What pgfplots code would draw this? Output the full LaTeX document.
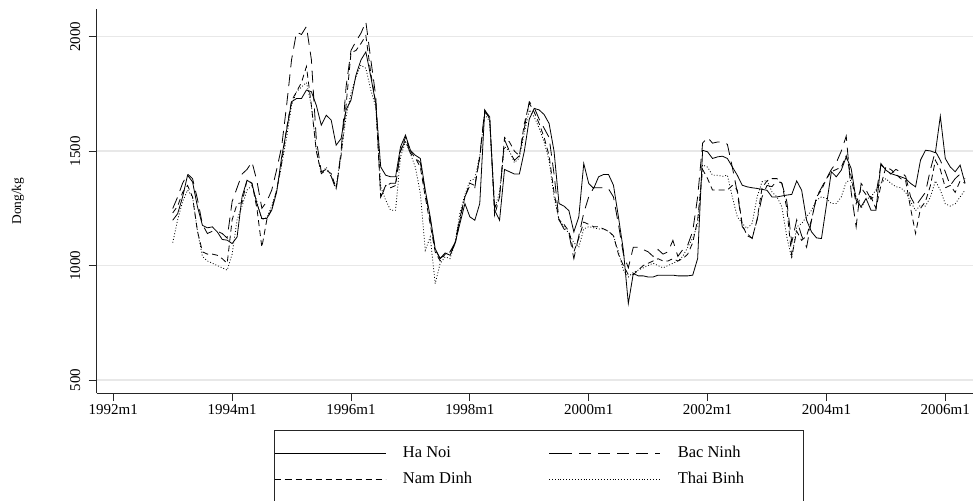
\documentclass[border=0pt]{standalone}
\usepackage{fontspec}
\setmainfont{Liberation Serif}
\usepackage{pgfplots}
\usepackage{pgfplotstable}
\pgfplotsset{compat=1.18}

% m = months since 1992m1
\pgfplotstableread{
m hn bn nd tb
12 1198 1249 1230 1100
13 1227 1300 1260 1200
14 1300 1360 1320 1280
15 1395 1400 1350 1330
16 1366 1380 1300 1300
17 1257 1290 1150 1150
18 1176 1180 1060 1040
19 1165 1140 1050 1020
20 1169 1150 1050 1010
21 1147 1150 1045 1000
22 1114 1140 1030 990
23 1111 1120 1010 980
24 1096 1280 1200 1050
25 1125 1340 1270 1200
26 1300 1400 1275 1260
27 1373 1420 1373 1330
28 1359 1453 1360 1350
29 1271 1370 1250 1280
30 1206 1250 1080 1200
31 1206 1280 1200 1210
32 1242 1330 1250 1260
33 1322 1420 1330 1330
34 1475 1520 1450 1440
35 1592 1700 1600 1560
36 1716 1900 1720 1700
37 1730 2020 1760 1760
38 1730 2010 1800 1780
39 1767 2045 1870 1800
40 1760 1900 1700 1700
41 1700 1550 1500 1504
42 1614 1410 1402 1400
43 1657 1420 1417 1430
44 1636 1390 1402 1390
45 1526 1330 1337 1345
46 1555 1500 1480 1490
47 1680 1780 1700 1650
48 1723 1940 1930 1752
49 1832 1980 1940 1825
50 1898 2015 1970 1876
51 1934 2065 2005 1862
52 1825 1900 1840 1767
53 1708 1740 1710 1694
54 1431 1300 1300 1344
55 1395 1345 1350 1286
56 1388 1360 1340 1242
57 1388 1360 1350 1242
58 1519 1500 1500 1475
59 1570 1550 1560 1540
60 1504 1490 1500 1490
61 1482 1470 1470 1430
62 1468 1450 1430 1315
63 1329 1320 1300 1067
64 1213 1200 1180 1125
65 1074 1070 1060 921
66 1031 1030 1020 1009
67 1055 1050 1050 1038
68 1045 1060 1060 1030
69 1096 1100 1090 1100
70 1184 1210 1200 1230
71 1271 1300 1300 1310
72 1213 1350 1360 1370
73 1198 1340 1350 1380
74 1271 1480 1470 1480
75 1679 1680 1670 1660
76 1650 1640 1650 1630
77 1242 1250 1220 1250
78 1198 1300 1300 1320
79 1420 1550 1560 1520
80 1410 1500 1540 1500
81 1400 1460 1500 1450
82 1400 1480 1480 1470
83 1500 1600 1620 1580
84 1640 1716 1710 1680
85 1687 1690 1670 1650
86 1680 1640 1620 1600
87 1660 1600 1560 1540
88 1621 1560 1480 1460
89 1500 1400 1320 1300
90 1271 1200 1200 1200
91 1260 1160 1180 1170
92 1240 1140 1150 1140
93 1147 1030 1060 1100
94 1213 1130 1120 1080
95 1446 1230 1190 1160
96 1359 1300 1180 1170
97 1337 1340 1170 1165
98 1388 1340 1170 1160
99 1398 1340 1160 1160
100 1398 1335 1150 1150
101 1351 1300 1130 1130
102 1213 1180 1050 1060
103 1067 1050 1000 980
104 834 990 960 950
105 965 1080 960 970
106 955 1080 980 980
107 955 1070 1000 990
108 950 1060 1010 1000
109 950 1040 1020 1010
110 958 1070 1030 1000
111 958 1050 1020 990
112 958 1060 1020 1000
113 958 1110 1030 1010
114 955 1040 1020 1020
115 955 1070 1030 1040
116 955 1090 1050 1080
117 958 1150 1100 1120
118 1031 1300 1200 1180
119 1504 1535 1420 1440
120 1497 1560 1380 1430
121 1468 1535 1330 1395
122 1475 1540 1330 1395
123 1478 1540 1330 1390
124 1468 1530 1330 1395
125 1431 1430 1350 1300
126 1395 1320 1330 1213
127 1351 1170 1180 1184
128 1344 1140 1130 1162
129 1340 1118 1120 1184
130 1337 1200 1200 1300
131 1333 1300 1340 1366
132 1329 1350 1370 1373
133 1300 1345 1380 1322
134 1300 1370 1380 1300
135 1304 1360 1360 1257
136 1308 1280 1250 1125
137 1311 1100 1040 1031
138 1370 1200 1150 1169
139 1329 1130 1110 1184
140 1198 1080 1130 1213
141 1147 1200 1200 1242
142 1121 1300 1300 1286
143 1118 1340 1330 1300
144 1264 1380 1380 1293
145 1410 1420 1410 1271
146 1388 1450 1420 1271
147 1417 1500 1430 1300
148 1475 1566 1480 1366
149 1424 1320 1390 1373
150 1286 1169 1270 1300
151 1257 1359 1340 1250
152 1293 1330 1310 1290
153 1242 1290 1300 1300
154 1242 1310 1250 1330
155 1446 1440 1350 1360
156 1417 1420 1430 1380
157 1402 1400 1420 1360
158 1395 1420 1400 1345
159 1388 1410 1380 1340
160 1380 1390 1370 1320
161 1359 1300 1250 1280
162 1344 1260 1140 1240
163 1461 1290 1250 1264
164 1504 1320 1280 1260
165 1501 1420 1350 1300
166 1493 1500 1460 1370
167 1653 1460 1420 1330
168 1468 1410 1340 1270
169 1431 1350 1350 1260
170 1410 1380 1320 1270
171 1439 1400 1370 1300
172 1359 1380 1360 1330
}\prices

\begin{document}
\begin{tikzpicture}[x=1pt,y=1pt]
\path[use as bounding box] (0,0) rectangle (973,500);
\begin{axis}[
  at={(96.7pt,107pt)}, anchor=south west,
  scale only axis, width=876.3pt, height=383.7pt,
  xmin=-3.35, xmax=173.6, ymin=443, ymax=2120,
  axis x line*=bottom, axis y line*=left,
  axis line style={line width=0.9pt, color=black!85, -},
  xtick={0,24,48,72,96,120,144,168},
  xticklabels={1992m1,1994m1,1996m1,1998m1,2000m1,2002m1,2004m1,2006m1},
  ytick={500,1000,1500,2000},
  yticklabels={500,1000,1500,2000},
  tick align=outside,
  major tick length=8pt,
  tick style={line width=0.9pt, color=black!85},
  ticklabel style={font=\fontsize{15}{17}\selectfont},
  yticklabel style={rotate=90, anchor=south},
  yticklabel shift=5pt,
  ymajorgrids,
  grid style={line width=1.4pt, color=black!9},
  ylabel={Dong/kg},
  ylabel style={at={(axis description cs:-0.0898,0.5)}, anchor=center, rotate=0, font=\fontsize{13.4}{15}\selectfont},
  legend columns=2,
  legend cell align=left,
  legend image code/.code={\path (-11pt,0pt) -- (0pt,0pt); \draw[#1] (0pt,0pt) -- (100pt,0pt);},
  legend style={at={(axis description cs:0.5047,-0.0964)}, anchor=north,
    draw=black!85, line width=0.9pt, inner xsep=0pt, inner ysep=15pt,
    column sep=0pt, row sep=10pt,
    nodes={inner sep=0pt, text height=12pt, text depth=4pt},
    font=\fontsize{16.5}{18}\selectfont},
]
\addplot[black, line width=0.8pt] table[x=m, y=hn] {\prices};
\addlegendentry{\hspace{17pt}\makebox[146pt][l]{Ha Noi}}
\addplot[black, line width=0.8pt, dash pattern=on 12pt off 7pt] table[x=m, y=bn] {\prices};
\addlegendentry{\hspace{17pt}\makebox[126pt][l]{Bac Ninh}}
\addplot[black, line width=0.8pt, dash pattern=on 6pt off 4pt] table[x=m, y=nd] {\prices};
\addlegendentry{\hspace{17pt}\makebox[146pt][l]{Nam Dinh}}
\addplot[black, line width=0.8pt, dash pattern=on 0.9pt off 2pt] table[x=m, y=tb] {\prices};
\addlegendentry{\hspace{17pt}\makebox[126pt][l]{Thai Binh}}
\end{axis}
\end{tikzpicture}
\end{document}
